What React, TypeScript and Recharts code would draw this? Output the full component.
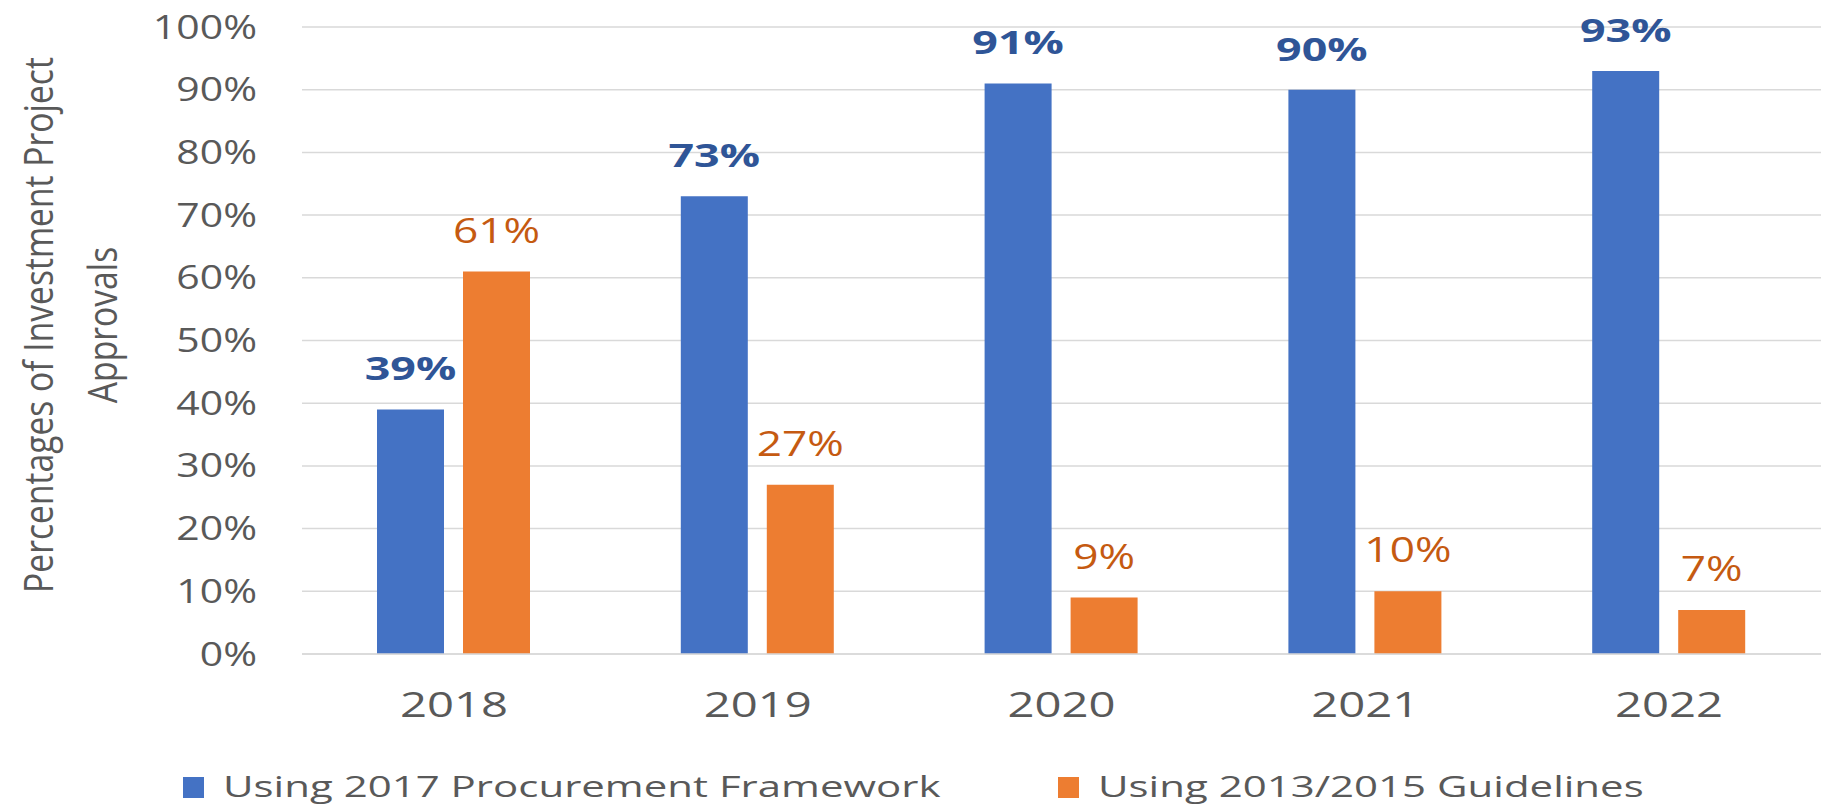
import React from "react"
import { BarChart, Bar, XAxis, YAxis, CartesianGrid, LabelList, Legend } from "recharts"

const years = ["2018", "2019", "2020", "2021", "2022"]
const framework2017 = [39, 73, 91, 90, 93]
const guidelines2013 = [61, 27, 9, 10, 7]
const yTicks = [0, 10, 20, 30, 40, 50, 60, 70, 80, 90, 100]

const seriesNames = {
  framework: "Using 2017 Procurement Framework",
  guidelines: "Using 2013/2015 Guidelines",
}

const data = years.map((year, i) => ({
  year,
  framework: framework2017[i],
  guidelines: guidelines2013[i],
}))

const BLUE = "#4472C4"
const ORANGE = "#ED7D31"
const TEXT = "#595959"
const FONT = "'Open Sans', 'DejaVu Sans', sans-serif"

// source image is stretched sideways, so every text gets a horizontal scale
const SX = 1.35

function YTick({ x, y, payload }: any) {
  return (
    <text
      transform={`translate(${x},${y + 11.5}) scale(1.28,1)`}
      textAnchor="end"
      fontFamily={FONT}
      fontSize={32}
      fill={TEXT}
    >
      {payload.value}%
    </text>
  )
}

function XTick({ x, y, payload }: any) {
  return (
    <text
      transform={`translate(${x},${y + 63}) scale(${SX},1)`}
      textAnchor="middle"
      fontFamily={FONT}
      fontSize={35}
      fill={TEXT}
    >
      {payload.value}
    </text>
  )
}

function makeValueLabel(color: string, bold: boolean) {
  return function ValueLabel({ x, y, width, value }: any) {
    return (
      <text
        transform={`translate(${x + width / 2},${y - 29}) scale(${bold ? 1.4 : 1.3},1)`}
        textAnchor="middle"
        fontFamily={FONT}
        fontSize={bold ? 32 : 34}
        fontWeight={bold ? 700 : 400}
        fill={color}
      >
        {value}%
      </text>
    )
  }
}

function YTitle() {
  const cy = 325
  const common = {
    textAnchor: "middle" as const,
    fontFamily: FONT,
    fontSize: 41,
    fill: TEXT,
  }
  return (
    <g>
      <text {...common} transform={`translate(53,${cy}) rotate(-90) scale(0.82,1)`}>
        Percentages of Investment Project
      </text>
      <text {...common} transform={`translate(117,${cy}) rotate(-90) scale(0.82,1)`}>
        Approvals
      </text>
    </g>
  )
}

const legendSpot: Record<string, number> = { framework: 183, guidelines: 1058 }

function LegendBox({ payload }: any) {
  return (
    <svg width={1821} height={50}>
      {(payload || []).map((item: any) => {
        const left = legendSpot[item.dataKey] ?? 0
        return (
          <g key={item.value}>
            <rect x={left} y={15} width={21} height={21} fill={item.color} />
            <text
              transform={`translate(${left + 40},${35}) scale(1.4,1)`}
              fontFamily={FONT}
              fontSize={30}
              fill={TEXT}
            >
              {item.value}
            </text>
          </g>
        )
      })}
    </svg>
  )
}

export default function App() {
  return (
    <div style={{ position: "absolute", left: 0, top: 0, background: "#fff" }}>
      <BarChart
        width={1821}
        height={806}
        data={data}
        margin={{ top: 27, right: 0, bottom: 92, left: 0 }}
        barSize={67}
        barGap={19}
      >
        <CartesianGrid vertical={false} stroke="#D9D9D9" strokeWidth={1.5} />
        <XAxis
          dataKey="year"
          height={60}
          tickLine={false}
          tickSize={0}
          tickMargin={0}
          axisLine={{ stroke: "#D9D9D9", strokeWidth: 1.5 }}
          tick={<XTick />}
        />
        <YAxis
          width={302}
          domain={[0, 100]}
          ticks={yTicks}
          axisLine={false}
          tickLine={false}
          tickSize={0}
          tickMargin={45}
          tick={<YTick />}
          label={<YTitle />}
        />
        <Legend
          layout="horizontal"
          verticalAlign="middle"
          align="center"
          wrapperStyle={{ top: 762, left: 0, width: 1821, height: 50 }}
          content={<LegendBox />}
        />
        <Bar dataKey="framework" name={seriesNames.framework} fill={BLUE} isAnimationActive={false}>
          <LabelList dataKey="framework" content={makeValueLabel("#2F5597", true)} />
        </Bar>
        <Bar dataKey="guidelines" name={seriesNames.guidelines} fill={ORANGE} isAnimationActive={false}>
          <LabelList dataKey="guidelines" content={makeValueLabel("#C55A11", false)} />
        </Bar>
      </BarChart>
    </div>
  )
}
